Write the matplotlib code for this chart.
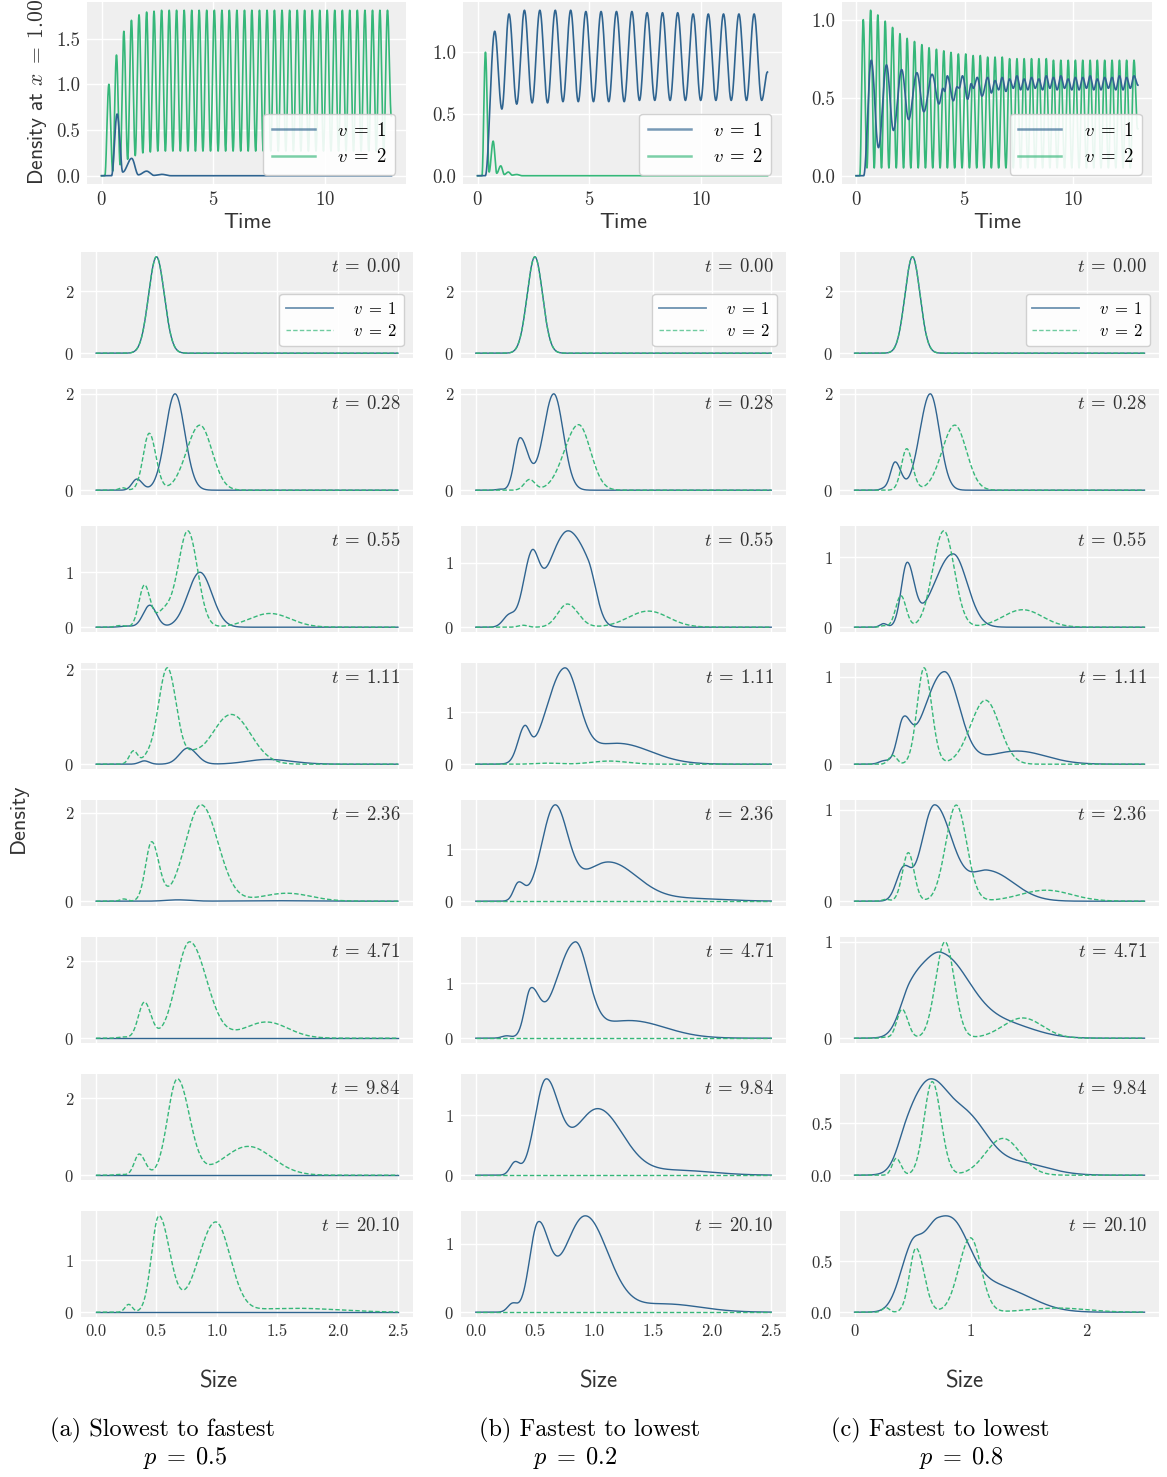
import numpy as np
import matplotlib
matplotlib.use("Agg")
import matplotlib.pyplot as plt
from matplotlib.ticker import MultipleLocator, MaxNLocator
from matplotlib.lines import Line2D

plt.rcParams.update({
    "font.family": "cmr10",
    "mathtext.fontset": "cm",
    "axes.unicode_minus": False,
    "axes.formatter.use_mathtext": True,
})

# ---------------- data: top panels (density at x = 1 over time) -------------
TOP_T_END = 12.98
OSC_PEAK_T = [0.33, 0.67, 1.00, 1.34, 1.68, 2.02, 2.35, 2.69, 3.03, 3.36,
              3.70, 4.04, 4.37, 4.71, 5.05, 5.39, 5.72, 6.06, 6.40, 6.73,
              7.07, 7.41, 7.74, 8.08, 8.42, 8.76, 9.09, 9.43, 9.77, 10.10,
              10.44, 10.78, 11.11, 11.45, 11.79, 12.13, 12.46, 12.80]

# (a) v=1 : explicit extrema
TOP_A_V1_T = [0.0, 0.45, 0.70, 0.95, 1.35, 1.65, 2.02, 2.35, 2.70, 3.10, 12.98]
TOP_A_V1_V = [0.0, 0.0, 0.675, 0.04, 0.19, 0.01, 0.05, 0.004, 0.015, 0.0, 0.0]
# (a) v=2 : peaks / troughs
TOP_A_V2_PEAK = [1.00, 1.32, 1.58, 1.70, 1.76, 1.79, 1.80, 1.81, 1.81, 1.81,
                 1.81, 1.81, 1.81, 1.81, 1.81, 1.81, 1.81, 1.81, 1.81, 1.81,
                 1.81, 1.81, 1.81, 1.81, 1.81, 1.81, 1.81, 1.81, 1.81, 1.81,
                 1.81, 1.81, 1.81, 1.81, 1.81, 1.81, 1.81, 1.81]
TOP_A_V2_TROUGH = [0.05, 0.12, 0.18, 0.22, 0.25, 0.26, 0.27, 0.27, 0.27, 0.27,
                   0.27, 0.27, 0.27, 0.27, 0.27, 0.27, 0.27, 0.27, 0.27, 0.27,
                   0.27, 0.27, 0.27, 0.27, 0.27, 0.27, 0.27, 0.27, 0.27, 0.27,
                   0.27, 0.27, 0.27, 0.27, 0.27, 0.27, 0.27]

# (b) v=1 : peaks / troughs
TOP_B_V1_PEAK_T = [0.77, 1.41, 2.10, 2.79, 3.48, 4.17, 4.85, 5.53, 6.22, 6.91,
                   7.59, 8.28, 8.96, 9.65, 10.33, 11.01, 11.70, 12.38]
TOP_B_V1_PEAK = [1.17, 1.31, 1.34, 1.34, 1.34, 1.34, 1.33, 1.33, 1.33, 1.33,
                 1.32, 1.32, 1.32, 1.31, 1.31, 1.31, 1.31, 1.31]
TOP_B_V1_TROUGH = [0.54, 0.58, 0.59, 0.59, 0.60, 0.60, 0.60, 0.60, 0.60, 0.61,
                   0.61, 0.61, 0.61, 0.61, 0.61, 0.61, 0.61]
# (b) v=2 : explicit extrema
TOP_B_V2_T = [0.0, 0.20, 0.356, 0.52, 0.70, 0.86, 1.04, 1.20, 1.38, 1.55, 1.75, 2.0, 12.98]
TOP_B_V2_V = [0.0, 0.0, 1.00, 0.03, 0.28, 0.02, 0.08, 0.01, 0.03, 0.005, 0.01, 0.0, 0.0]

# (c) v=1 : explicit early extrema, then fast oscillation
TOP_C_V1_T = [0.0, 0.35, 0.70, 1.03, 1.40, 1.72, 2.10, 2.42, 2.80, 3.12, 3.50,
              3.82, 4.00, 4.08, 4.20, 4.48, 4.65, 4.75, 4.90, 5.14, 5.30, 5.40,
              5.58, 5.80]
TOP_C_V1_V = [0.0, 0.0, 0.74, 0.18, 0.71, 0.29, 0.68, 0.36, 0.66, 0.41, 0.65,
              0.46, 0.56, 0.54, 0.64, 0.48, 0.57, 0.56, 0.64, 0.49, 0.59, 0.56,
              0.63, 0.51]
TOP_C_V1_FAST_T = [6.06, 6.40, 6.73, 7.07, 7.41, 7.74, 8.08, 8.42, 8.76, 9.09,
                   9.43, 9.77, 10.10, 10.44, 10.78, 11.11, 11.45, 11.79, 12.13,
                   12.46, 12.80]
TOP_C_V1_FAST_PEAK = [0.63, 0.61, 0.63, 0.62, 0.64, 0.62, 0.63, 0.62, 0.64, 0.63,
                      0.64, 0.62, 0.63, 0.63, 0.64, 0.62, 0.63, 0.63, 0.64, 0.63,
                      0.64]
TOP_C_V1_FAST_TROUGH = [0.53, 0.55, 0.54, 0.56, 0.55, 0.55, 0.56, 0.55, 0.56, 0.55,
                        0.56, 0.55, 0.55, 0.56, 0.55, 0.55, 0.56, 0.55, 0.55, 0.56]
# (c) v=2 : peaks / troughs
TOP_C_V2_PEAK = [1.00, 1.06, 1.03, 0.99, 0.95, 0.91, 0.88, 0.86, 0.84, 0.82,
                 0.81, 0.80, 0.79, 0.78, 0.78, 0.77, 0.77, 0.76, 0.76, 0.76,
                 0.75, 0.75, 0.75, 0.75, 0.75, 0.75, 0.74, 0.74, 0.74, 0.74,
                 0.74, 0.74, 0.74, 0.74, 0.74, 0.74, 0.74, 0.74]
TOP_C_V2_TROUGH = [0.05, 0.05, 0.05, 0.05, 0.05, 0.05, 0.05, 0.05, 0.05, 0.05,
                   0.05, 0.05, 0.05, 0.05, 0.05, 0.05, 0.05, 0.05, 0.05, 0.05,
                   0.05, 0.05, 0.05, 0.05, 0.05, 0.05, 0.05, 0.05, 0.05, 0.05,
                   0.05, 0.05, 0.05, 0.05, 0.05, 0.05, 0.05]

# ---------------- data: size distributions -------------------------------
TIMES = ["0.00", "0.28", "0.55", "1.11", "2.36", "4.71", "9.84", "20.10"]
# each peak: (centre, height, left width, right width)
A_V1 = [
    [(0.50, 3.10, 0.065, 0.065)],
    [(0.338, 0.23, 0.04, 0.045), (0.654, 2.00, 0.08, 0.08)],
    [(0.25, 0.02, 0.05, 0.05), (0.445, 0.40, 0.055, 0.055), (0.86, 1.00, 0.10, 0.10)],
    [(0.40, 0.07, 0.04, 0.04), (0.76, 0.34, 0.07, 0.075), (1.42, 0.10, 0.17, 0.20)],
    [(0.68, 0.03, 0.10, 0.10), (1.50, 0.01, 0.30, 0.30)],
    [], [], [],
]
A_V2 = [
    [(0.50, 3.10, 0.065, 0.065)],
    [(0.22, 0.05, 0.03, 0.03), (0.44, 1.18, 0.05, 0.055), (0.86, 1.35, 0.11, 0.10)],
    [(0.20, 0.03, 0.04, 0.04), (0.40, 0.75, 0.045, 0.045), (0.56, 0.28, 0.07, 0.07),
     (0.76, 1.75, 0.08, 0.08), (1.44, 0.25, 0.17, 0.17)],
    [(0.31, 0.28, 0.035, 0.035), (0.42, 0.10, 0.04, 0.04), (0.59, 2.03, 0.075, 0.075),
     (0.80, 0.12, 0.06, 0.06), (1.12, 1.05, 0.16, 0.16)],
    [(0.23, 0.05, 0.03, 0.03), (0.46, 1.33, 0.05, 0.06), (0.87, 2.18, 0.13, 0.14),
     (1.58, 0.18, 0.20, 0.20)],
    [(0.22, 0.03, 0.04, 0.04), (0.40, 0.93, 0.05, 0.055), (0.775, 2.50, 0.11, 0.14),
     (1.41, 0.42, 0.18, 0.18)],
    [(0.20, 0.02, 0.04, 0.04), (0.357, 0.55, 0.04, 0.05), (0.673, 2.50, 0.08, 0.10),
     (1.26, 0.75, 0.20, 0.20)],
    [(0.27, 0.15, 0.03, 0.03), (0.52, 1.85, 0.06, 0.09), (0.99, 1.72, 0.14, 0.12),
     (1.65, 0.075, 0.40, 0.35)],
]
B_V1 = [
    [(0.50, 3.10, 0.065, 0.065)],
    [(0.20, 0.02, 0.03, 0.03), (0.375, 1.08, 0.047, 0.068), (0.66, 2.00, 0.087, 0.08)],
    [(0.28, 0.17, 0.05, 0.05), (0.47, 0.93, 0.07, 0.06), (0.74, 1.30, 0.15, 0.13),
     (0.95, 0.70, 0.12, 0.07)],
    [(0.41, 0.60, 0.055, 0.045), (0.75, 1.77, 0.15, 0.12), (1.20, 0.40, 0.25, 0.28)],
    [(0.36, 0.33, 0.04, 0.05), (0.667, 1.76, 0.11, 0.11), (1.12, 0.75, 0.22, 0.243),
     (1.80, 0.05, 0.30, 0.30)],
    [(0.26, 0.04, 0.04, 0.04), (0.464, 0.80, 0.05, 0.07), (0.84, 1.65, 0.16, 0.11),
     (1.30, 0.32, 0.30, 0.30)],
    [(0.33, 0.20, 0.04, 0.04), (0.59, 1.50, 0.09, 0.109), (1.03, 1.10, 0.20, 0.21),
     (1.70, 0.08, 0.30, 0.30)],
    [(0.31, 0.12, 0.04, 0.04), (0.525, 1.20, 0.07, 0.09), (0.925, 1.40, 0.18, 0.19),
     (1.60, 0.12, 0.30, 0.30)],
]
B_V2 = [
    [(0.50, 3.10, 0.065, 0.065)],
    [(0.455, 0.22, 0.045, 0.045), (0.87, 1.36, 0.12, 0.10)],
    [(0.40, 0.03, 0.04, 0.04), (0.775, 0.36, 0.08, 0.09), (1.46, 0.25, 0.17, 0.17)],
    [(0.60, 0.02, 0.10, 0.10), (1.13, 0.06, 0.15, 0.15)],
    [], [], [], [],
]
C_V1 = [
    [(0.50, 3.10, 0.065, 0.065)],
    [(0.25, 0.03, 0.03, 0.03), (0.35, 0.58, 0.04, 0.05), (0.653, 2.00, 0.09, 0.08)],
    [(0.25, 0.05, 0.03, 0.03), (0.453, 0.88, 0.05, 0.06), (0.85, 1.05, 0.16, 0.12)],
    [(0.25, 0.03, 0.04, 0.04), (0.42, 0.42, 0.05, 0.06), (0.774, 1.05, 0.17, 0.13),
     (1.40, 0.15, 0.25, 0.25)],
    [(0.42, 0.33, 0.06, 0.06), (0.69, 1.05, 0.11, 0.15), (1.15, 0.33, 0.15, 0.22)],
    [(0.48, 0.35, 0.09, 0.12), (0.75, 0.85, 0.17, 0.24), (1.30, 0.14, 0.25, 0.25)],
    [(0.45, 0.20, 0.08, 0.10), (0.65, 0.83, 0.15, 0.16), (0.98, 0.48, 0.16, 0.17),
     (1.40, 0.12, 0.25, 0.25)],
    [(0.48, 0.42, 0.10, 0.08), (0.72, 0.88, 0.15, 0.24), (0.90, 0.15, 0.10, 0.12),
     (1.30, 0.20, 0.20, 0.25)],
]
C_V2 = [
    [(0.50, 3.10, 0.065, 0.065)],
    [(0.45, 0.86, 0.045, 0.05), (0.865, 1.35, 0.11, 0.10)],
    [(0.25, 0.02, 0.03, 0.03), (0.40, 0.45, 0.045, 0.045), (0.77, 1.38, 0.095, 0.09),
     (1.45, 0.25, 0.17, 0.17)],
    [(0.33, 0.10, 0.035, 0.035), (0.60, 1.10, 0.06, 0.065), (1.13, 0.73, 0.13, 0.12)],
    [(0.27, 0.02, 0.03, 0.03), (0.464, 0.53, 0.05, 0.05), (0.877, 1.05, 0.09, 0.09),
     (1.65, 0.12, 0.22, 0.22)],
    [(0.26, 0.01, 0.03, 0.03), (0.41, 0.30, 0.045, 0.05), (0.78, 1.00, 0.08, 0.08),
     (1.45, 0.21, 0.17, 0.17)],
    [(0.36, 0.16, 0.035, 0.04), (0.67, 0.89, 0.07, 0.075), (1.28, 0.35, 0.15, 0.15)],
    [(0.27, 0.045, 0.03, 0.03), (0.53, 0.62, 0.055, 0.07), (1.00, 0.72, 0.10, 0.09),
     (1.75, 0.04, 0.25, 0.25)],
]

CAPTIONS = [("(a) Slowest to fastest", r"$p \;=\; 0.5$"),
            ("(b) Fastest to lowest", r"$p \;=\; 0.2$"),
            ("(c) Fastest to lowest", r"$p \;=\; 0.8$")]
LEGEND_LABELS = [r"$v \;=\; 1$", r"$v \;=\; 2$"]

# ---------------- helpers ---------------------------------------------------
BLUE = "#2f6490"
GREEN = "#35b779"
BG = "#efefef"
TXT = "#333333"


def split_gauss(x, comps):
    y = np.zeros_like(x)
    for c, h, sl, sr in comps:
        s = np.where(x < c, sl, sr)
        y += h * np.exp(-0.5 * ((x - c) / s) ** 2)
    return y


def merge(start_t, start_v, peak_t, peak_v, trough_v, end_t, end_v):
    ts, vs = list(start_t), list(start_v)
    for i, (pt, pv) in enumerate(zip(peak_t, peak_v)):
        ts.append(pt)
        vs.append(pv)
        if i < len(peak_t) - 1:
            ts.append(0.5 * (pt + peak_t[i + 1]))
            vs.append(trough_v[i])
    return ts + list(end_t), vs + list(end_v)


def wave(t_ext, v_ext, t):
    te = np.asarray(t_ext, float)
    ve = np.asarray(v_ext, float)
    idx = np.clip(np.searchsorted(te, t, side="right") - 1, 0, len(te) - 2)
    t0, t1 = te[idx], te[idx + 1]
    v0, v1 = ve[idx], ve[idx + 1]
    s = np.clip((t - t0) / (t1 - t0), 0, 1)
    return v0 + (v1 - v0) * (1 - np.cos(np.pi * s)) / 2


W, H = 1167, 1477
fig = plt.figure(figsize=(W / 100, H / 100), dpi=100)


def px_axes(l, t, r, b):
    return fig.add_axes([l / W, 1 - b / H, (r - l) / W, (b - t) / H])


def style(ax, size):
    ax.set_facecolor(BG)
    for s in ax.spines.values():
        s.set_visible(False)
    ax.grid(True, color="white", lw=1.0)
    ax.set_axisbelow(True)
    ax.tick_params(length=0, labelsize=size, colors=TXT, pad=5)


# ---------------- top panels ------------------------------------------------
t = np.linspace(0, TOP_T_END, 6000)
a2_t, a2_v = merge([0.0, 0.15], [0.0, 0.0], OSC_PEAK_T, TOP_A_V2_PEAK,
                   TOP_A_V2_TROUGH, [12.97], [0.65])
b1_t, b1_v = merge([0.0, 0.35], [0.0, 0.0], TOP_B_V1_PEAK_T, TOP_B_V1_PEAK,
                   TOP_B_V1_TROUGH, [12.72, 12.98], [0.61, 0.84])
c1f_t, c1f_v = merge([], [], TOP_C_V1_FAST_T, TOP_C_V1_FAST_PEAK,
                     TOP_C_V1_FAST_TROUGH, [12.98], [0.58])
c1_t, c1_v = TOP_C_V1_T + c1f_t, TOP_C_V1_V + c1f_v
c2_t, c2_v = merge([0.0, 0.17], [0.0, 0.0], OSC_PEAK_T, TOP_C_V2_PEAK,
                   TOP_C_V2_TROUGH, [12.96], [0.30])

top_series = [
    ((TOP_A_V1_T, TOP_A_V1_V), (a2_t, a2_v)),
    ((b1_t, b1_v), (TOP_B_V2_T, TOP_B_V2_V)),
    ((c1_t, c1_v), (c2_t, c2_v)),
]
top_boxes = [(87, 2, 406, 184), (463, 2, 782, 184), (842, 2, 1152, 184)]
time_label_x = [247, 623, 997]

for k, (box, (s1, s2)) in enumerate(zip(top_boxes, top_series)):
    ax = px_axes(*box)
    style(ax, 13.5)
    ax.plot(t, wave(s2[0], s2[1], t), color=GREEN, lw=1.2)
    ax.plot(t, wave(s1[0], s1[1], t), color=BLUE, lw=1.2)
    ax.xaxis.set_major_locator(MultipleLocator(5))
    ax.yaxis.set_major_locator(MultipleLocator(0.5))
    ax.yaxis.set_major_formatter(plt.FormatStrFormatter("%.1f"))
    ax.margins(x=0.05, y=0.05)
    handles = [Line2D([], [], color=BLUE, lw=1.8, alpha=0.65),
               Line2D([], [], color=GREEN, lw=1.8, alpha=0.65)]
    ax.legend(handles, LEGEND_LABELS, loc="lower right",
              bbox_to_anchor=(0.967, 0.05), borderaxespad=0, fontsize=13.5,
              framealpha=0.9, edgecolor="#cccccc", handlelength=2.3,
              handletextpad=1.2, borderpad=0.45, labelspacing=0.45)
    fig.text(time_label_x[k] / W, 1 - 222 / H, "Time", family="cmss10",
             fontsize=16, color=TXT, ha="center", va="center")

fig.text(38 / W, 1 - 92 / H, r"Density at $x \;=\; 1.00$", family="cmss10",
         fontsize=15.5, color=TXT, rotation=90, ha="center", va="center")

# ---------------- density panels ------------------------------------------
x = np.linspace(0, 2.5, 800)
cols = [(81, 413, A_V1, A_V2, 0.5), (461, 786, B_V1, B_V2, 0.5),
        (840, 1159, C_V1, C_V2, 1.0)]
size_label_x = [218, 598, 964]
cap1_x = [162, 590, 940]
cap2_x = [185, 575, 961]

for k, (l, r, v1s, v2s, step) in enumerate(cols):
    for i in range(len(TIMES)):
        top = 252 + 137 * i
        ax = px_axes(l, top, r, top + 106)
        style(ax, 12)
        ax.plot(x, split_gauss(x, v1s[i]), color=BLUE, lw=1.0)
        ax.plot(x, split_gauss(x, v2s[i]), color=GREEN, lw=1.0,
                linestyle=(0, (3.2, 1.6)))
        ax.margins(x=0.05, y=0.05)
        ax.xaxis.set_major_locator(MultipleLocator(step))
        ax.yaxis.set_major_locator(MaxNLocator(nbins=2, steps=[1, 2, 2.5, 5, 10]))
        if step == 0.5:
            ax.xaxis.set_major_formatter(plt.FormatStrFormatter("%.1f"))
        else:
            ax.xaxis.set_major_formatter(plt.FormatStrFormatter("%d"))
        if i < len(TIMES) - 1:
            ax.tick_params(labelbottom=False)
        ax.text(0.962, 0.86, r"$t \:=\: %s$" % TIMES[i], transform=ax.transAxes,
                ha="right", va="center", fontsize=13.5, color=TXT)
        if i == 0:
            handles = [Line2D([], [], color=BLUE, lw=1.3, alpha=0.7),
                       Line2D([], [], color=GREEN, lw=1.0, alpha=0.7,
                              linestyle=(0, (3.2, 1.6)))]
            ax.legend(handles, LEGEND_LABELS, loc="upper right",
                      bbox_to_anchor=(0.972, 0.605), borderaxespad=0,
                      fontsize=12, framealpha=0.9, edgecolor="#cccccc",
                      handlelength=2.8, handletextpad=1.2, borderpad=0.4,
                      labelspacing=0.4)
    fig.text(size_label_x[k] / W, 1 - 1382 / H, "Size", family="cmss10",
             fontsize=16.5, color=TXT, ha="center", va="center")
    fig.text(cap1_x[k] / W, 1 - 1430 / H, CAPTIONS[k][0], fontsize=17.5,
             color="black", ha="center", va="center")
    fig.text(cap2_x[k] / W, 1 - 1458 / H, CAPTIONS[k][1], fontsize=17.5,
             color="black", ha="center", va="center")

fig.text(18 / W, 1 - 818 / H, "Density", family="cmss10", fontsize=16,
         color=TXT, rotation=90, ha="center", va="center")

fig.savefig("out.png", dpi=100)
